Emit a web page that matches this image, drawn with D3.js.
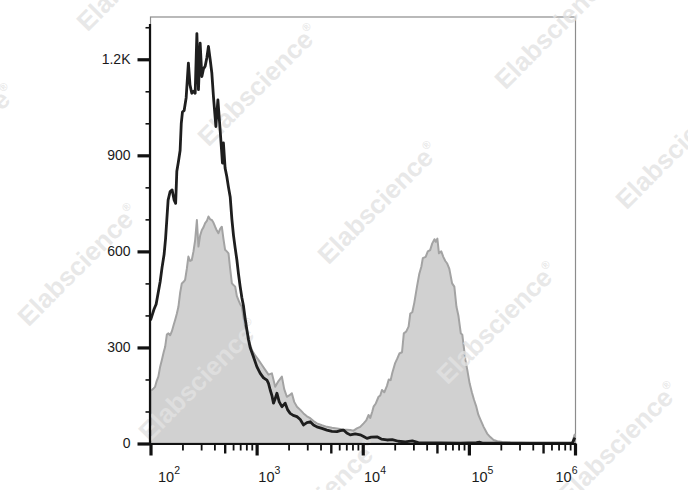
<!DOCTYPE html>
<html>
<head>
<meta charset="utf-8">
<script src="https://cdn.jsdelivr.net/npm/d3@7"></script>
<style>
html,body{margin:0;padding:0;background:#fff;}
svg{display:block;}
</style>
</head>
<body>
<svg id="chart" width="688" height="490"></svg>
<script>
// ---- data ----
const xMajorTicks = [1e2, 1e3, 1e4, 1e5, 1e6];
const xTickBase = ["10", "10", "10", "10", "10"];
const xTickExp = ["2", "3", "4", "5", "6"];
const yTickValues = [0, 300, 600, 900, 1200];
const yTickLabels = ["0", "300", "600", "900", "1.2K"];
const yMinorTicks = [100, 200, 400, 500, 700, 800, 1000, 1100, 1300];

// gray (filled) histogram: log10 intensity, count
const grayLogX = [2.000,2.012,2.029,2.043,2.058,2.074,2.091,2.107,2.124,2.138,2.154,2.169,2.185,2.201,2.218,2.232,2.248,2.263,2.279,2.295,2.312,2.326,2.342,2.357,2.373,2.389,2.405,2.421,2.437,2.452,2.468,2.484,2.499,2.515,2.531,2.546,2.562,2.578,2.593,2.609,2.625,2.640,2.656,2.672,2.687,2.703,2.719,2.735,2.751,2.767,2.782,2.798,2.814,2.829,2.845,2.861,2.876,2.892,2.908,2.923,2.939,2.955,2.986,3.017,3.050,3.081,3.112,3.144,3.175,3.206,3.238,3.260,3.285,3.307,3.332,3.354,3.380,3.411,3.442,3.474,3.505,3.536,3.568,3.615,3.662,3.710,3.757,3.816,3.882,3.913,3.945,3.976,4.008,4.033,4.055,4.071,4.090,4.102,4.123,4.149,4.165,4.181,4.203,4.228,4.245,4.263,4.278,4.304,4.325,4.345,4.370,4.387,4.410,4.432,4.448,4.467,4.486,4.511,4.533,4.552,4.566,4.593,4.613,4.635,4.655,4.676,4.688,4.703,4.718,4.740,4.759,4.778,4.794,4.816,4.842,4.863,4.883,4.901,4.924,4.938,4.967,4.985,5.007,5.028,5.049,5.070,5.089,5.111,5.139,5.172,5.202,5.233,5.268,5.315,5.391,5.485,5.674,5.862,5.976,5.994,6.000];
const grayCount = [165,167,172,177,195,209,240,261,285,302,340,344,338,350,370,386,405,427,470,500,505,511,545,584,570,573,600,636,698,615,650,667,675,688,695,709,700,698,690,677,665,657,670,677,640,605,600,594,545,500,495,490,460,448,435,427,395,365,350,334,310,292,275,261,245,230,215,219,177,195,209,170,146,150,157,130,115,105,94,85,79,70,63,57,52,49,47,44,42,40,47,52,63,72,89,80,100,115,125,146,150,167,160,180,200,198,220,250,265,281,285,344,350,365,406,410,440,490,530,552,579,583,600,604,625,638,630,640,594,600,583,570,563,545,500,490,427,400,344,340,261,230,188,160,136,115,90,73,52,31,20,11,7,5,3,2,1,1,2,26,28];

// black (open line) histogram: log10 intensity, count
const blackLogX = [2.000,2.015,2.034,2.053,2.072,2.091,2.109,2.128,2.142,2.154,2.166,2.185,2.204,2.223,2.237,2.248,2.263,2.279,2.290,2.301,2.317,2.336,2.357,2.372,2.389,2.405,2.421,2.437,2.452,2.468,2.484,2.499,2.515,2.531,2.546,2.562,2.578,2.593,2.616,2.635,2.656,2.678,2.687,2.703,2.719,2.735,2.751,2.767,2.782,2.798,2.814,2.829,2.845,2.861,2.876,2.892,2.908,2.923,2.939,2.955,2.970,3.002,3.034,3.065,3.097,3.112,3.128,3.144,3.159,3.175,3.191,3.213,3.238,3.253,3.269,3.293,3.316,3.345,3.380,3.411,3.442,3.474,3.505,3.536,3.568,3.615,3.662,3.710,3.757,3.788,3.819,3.849,3.882,3.929,3.976,4.008,4.040,4.080,4.134,4.175,4.228,4.278,4.335,4.401,4.467,4.524,4.589,4.731,4.919,5.070,5.103,5.127,5.297,5.580,5.862,5.976,5.994,6.000];
const blackCount = [385,400,420,435,470,505,550,590,640,700,760,787,792,760,750,850,880,915,1000,1035,1040,1080,1188,1120,1094,1100,1094,1280,1105,1250,1146,1170,1178,1205,1240,1200,1157,1084,990,1073,980,876,939,860,834,800,770,700,650,610,573,530,490,455,430,390,355,325,300,285,271,240,219,205,198,188,167,150,126,140,157,130,115,120,126,105,94,88,84,75,58,65,68,58,52,47,42,38,37,40,42,33,27,30,27,22,16,20,21,14,11,12,7,5,8,3,2,2,1,3,4,1,1,1,1,2,15,18];

// ---- layout ----
const plot = {left: 150.5, right: 575.5, top: 17, bottom: 443.5};
const svg = d3.select("#chart");

const x = d3.scaleLog().domain([1e2, 1e6]).range([150.5, 575]);
const y = d3.scaleLinear().domain([0, 1332]).range([plot.bottom, plot.top]);

const grayData = grayLogX.map((lx, i) => ({v: Math.pow(10, lx), c: grayCount[i]}));
const blackData = blackLogX.map((lx, i) => ({v: Math.pow(10, lx), c: blackCount[i]}));

svg.append("defs").append("clipPath").attr("id", "clip")
  .append("rect").attr("x", plot.left - 1).attr("y", plot.top)
  .attr("width", plot.right - plot.left + 2).attr("height", plot.bottom - plot.top + 1);

// frame (top / right thin gray)
svg.append("rect")
  .attr("x", plot.left).attr("y", plot.top)
  .attr("width", plot.right - plot.left).attr("height", plot.bottom - plot.top)
  .attr("fill", "#fff").attr("stroke", "#8c8c8c").attr("stroke-width", 1.2);

// gray filled histogram
const area = d3.area()
  .x(d => x(d.v)).y0(y(0)).y1(d => y(d.c));
const g = svg.append("g").attr("clip-path", "url(#clip)");
g.append("path").datum(grayData)
  .attr("d", area)
  .attr("fill", "#d1d1d1")
  .attr("stroke", "#a3a3a3").attr("stroke-width", 2).attr("stroke-linejoin", "round");

// watermarks
const marks = [[137,-30],[258,85],[378,203],[497,323],[618,443],[555,28],[676,148],[-45,145],[78,265],[199,380],[318,500]];
const wm = svg.append("g").attr("pointer-events", "none");
marks.forEach(([cx, cy]) => {
  const t = wm.append("text")
    .attr("transform", `translate(${cx},${cy}) rotate(-45)`)
    .attr("text-anchor", "middle").attr("dy", "0.35em")
    .attr("font-family", "Liberation Sans, Arial, sans-serif")
    .attr("font-weight", "bold").attr("font-size", 26)
    .attr("fill", "#e2e2e2").attr("fill-opacity", 0.8);
  t.append("tspan").text("Elabscience");
  t.append("tspan").attr("font-size", 11).attr("dy", "-1.1em").text("®");
});

// black line histogram
const line = d3.line().x(d => x(d.v)).y(d => y(d.c));
svg.append("g").attr("clip-path", "url(#clip)")
  .append("path").datum(blackData)
  .attr("d", line).attr("fill", "none")
  .attr("stroke", "#1e1e1e").attr("stroke-width", 2.8).attr("stroke-linejoin", "round");

// ---- axes ----
const font = "Liberation Sans, Arial, sans-serif";

// Y axis
const yAxisMinor = svg.append("g").attr("transform", `translate(${plot.left},0)`)
  .call(d3.axisLeft(y).tickValues(yMinorTicks).tickSize(5).tickFormat(""));
yAxisMinor.select(".domain").remove();
yAxisMinor.selectAll("line").attr("stroke", "#111").attr("stroke-width", 1.6);

const yAxis = svg.append("g").attr("transform", `translate(${plot.left},0)`)
  .call(d3.axisLeft(y).tickValues(yTickValues).tickSize(13).tickPadding(7)
    .tickFormat((d, i) => yTickLabels[i]));
yAxis.select(".domain").remove();
yAxis.selectAll("line").attr("stroke", "#111").attr("stroke-width", 3.2);
yAxis.selectAll("text").attr("font-family", font).attr("font-size", 14).attr("fill", "#1a1a1a");

svg.append("line").attr("x1", plot.left - 0.5).attr("x2", plot.left - 0.5)
  .attr("y1", y(1310)).attr("y2", plot.bottom + 1.5)
  .attr("stroke", "#111").attr("stroke-width", 2.2);

// X axis
const minorVals = [], midVals = [];
for (let k = 2; k < 6; k++) {
  for (let m = 2; m <= 9; m++) {
    const v = m * Math.pow(10, k);
    if (m === 5) midVals.push(v); else minorVals.push(v);
  }
}
const xAxisMinor = svg.append("g").attr("transform", `translate(0,${plot.bottom})`)
  .call(d3.axisBottom(x).tickValues(minorVals).tickSize(7).tickFormat(""));
xAxisMinor.select(".domain").remove();
xAxisMinor.selectAll("line").attr("stroke", "#111").attr("stroke-width", 1.8);

const xAxisMid = svg.append("g").attr("transform", `translate(0,${plot.bottom})`)
  .call(d3.axisBottom(x).tickValues(midVals).tickSize(10).tickFormat(""));
xAxisMid.select(".domain").remove();
xAxisMid.selectAll("line").attr("stroke", "#111").attr("stroke-width", 2.4);

const xAxis = svg.append("g").attr("transform", `translate(0,${plot.bottom})`)
  .call(d3.axisBottom(x).tickValues(xMajorTicks).tickSize(12).tickFormat(""));
xAxis.select(".domain").remove();
xAxis.selectAll("line").attr("stroke", "#111").attr("stroke-width", 3.2);

svg.append("line").attr("x1", plot.left - 1.5).attr("x2", plot.right + 0.5)
  .attr("y1", plot.bottom + 0.5).attr("y2", plot.bottom + 0.5)
  .attr("stroke", "#111").attr("stroke-width", 2.2);

// x tick labels: "10" with superscript exponent
const labelOffsets = [7.5, 1.7, 1.3, 2.6, 0];
xMajorTicks.forEach((v, i) => {
  const last = i === xMajorTicks.length - 1;
  const t = svg.append("text")
    .attr("x", last ? x(v) + 2.5 : x(v) + labelOffsets[i])
    .attr("y", 482)
    .attr("text-anchor", last ? "end" : "start")
    .attr("font-family", font).attr("font-size", 14.5).attr("fill", "#1a1a1a");
  t.append("tspan").text(xTickBase[i]);
  t.append("tspan").attr("dy", -8).attr("font-size", 10.5).text(xTickExp[i]);
});
</script>
</body>
</html>
